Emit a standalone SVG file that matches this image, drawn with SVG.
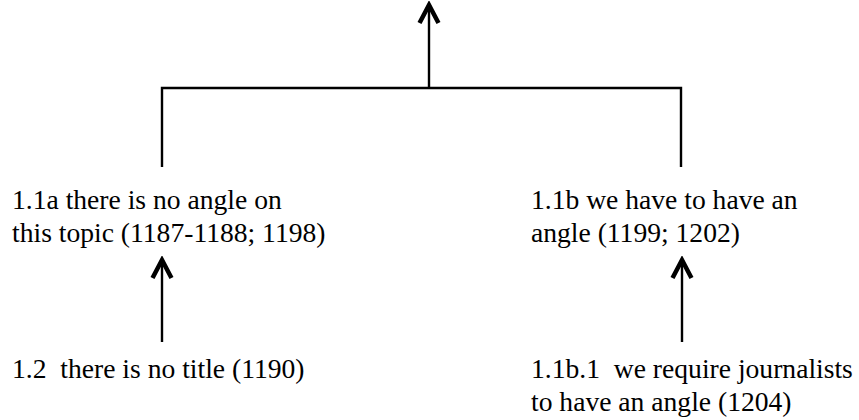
<svg xmlns="http://www.w3.org/2000/svg" width="859" height="420" viewBox="0 0 859 420">
<style>
.t{font-family:"Liberation Serif","Times New Roman",serif;font-size:27.6px;fill:#000}
.c{stroke:#000;stroke-width:2.4;fill:none}
</style>
<defs>
<marker id="ah" markerUnits="userSpaceOnUse" viewBox="-24 -14 28 28" refX="0" refY="0" markerWidth="28" markerHeight="28" orient="auto">
<path d="M-18,-9.5 L0,0 L-18,9.5" fill="none" stroke="#000" stroke-width="4.5"/>
</marker>
</defs>
<rect width="859" height="420" fill="#fff"/>
<g id="connectors">
<line class="c" x1="429" y1="88" x2="429" y2="5" marker-end="url(#ah)"/>
<polyline class="c" points="162,167 162,88 681,88 681,167"/>
<line class="c" x1="162" y1="342" x2="162" y2="260" marker-end="url(#ah)"/>
<line class="c" x1="682" y1="342" x2="682" y2="260" marker-end="url(#ah)"/>
</g>
<g id="n1a">
<text class="t" x="12" y="209">1.1a there is no angle on</text>
<text class="t" x="12" y="242">this topic (1187-1188; 1198)</text>
</g>
<g id="n1b">
<text class="t" x="531" y="209">1.1b we have to have an</text>
<text class="t" x="531" y="242">angle (1199; 1202)</text>
</g>
<g id="n12">
<text class="t" x="12" y="378" xml:space="preserve">1.2  there is no title (1190)</text>
</g>
<g id="n1b1">
<text class="t" x="531" y="378" xml:space="preserve">1.1b.1  we require journalists</text>
<text class="t" x="531" y="411">to have an angle (1204)</text>
</g>
</svg>
